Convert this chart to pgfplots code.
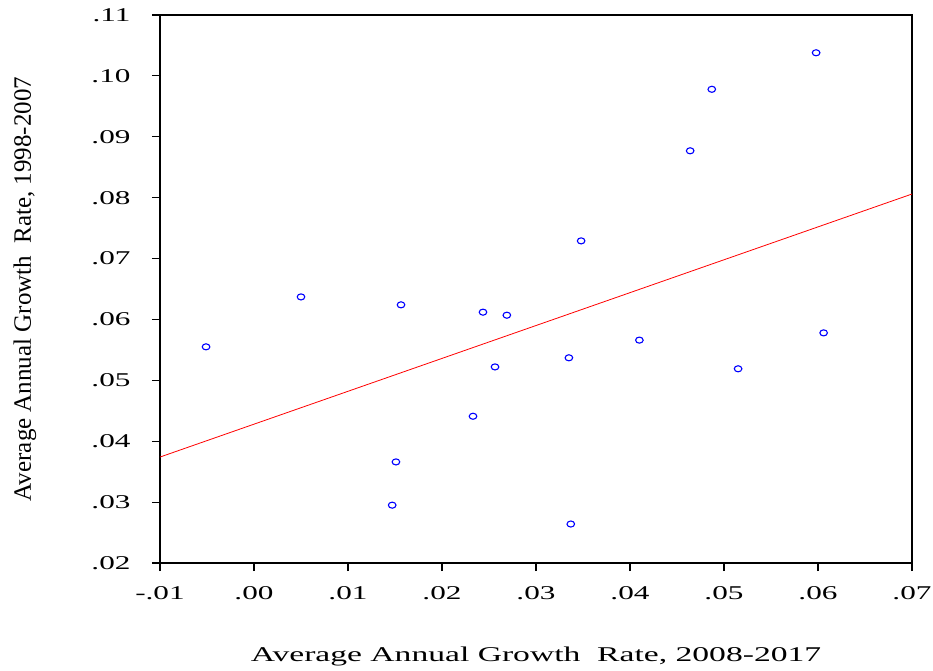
\documentclass[border=0pt]{standalone}
\usepackage{pgfplots}
\pgfplotsset{compat=1.18}
\usepackage{graphicx}
\usepackage{fontspec}
\setmainfont{Liberation Serif}
\newcommand\sx[1]{\scalebox{1.6}[1]{#1}}
\begin{document}
\begin{tikzpicture}
\path[use as bounding box] (-160bp,-108bp) rectangle (773bp,563bp);
\begin{axis}[
  at={(0,0)}, anchor=south west,
  scale only axis, width=752bp, height=548bp,
  xmin=-0.01, xmax=0.07, ymin=0.02, ymax=0.11,
  scaled ticks=false,
  xtick={-0.01,0,0.01,0.02,0.03,0.04,0.05,0.06,0.07},
  xticklabels={\sx{-.01},\sx{.00},\sx{.01},\sx{.02},\sx{.03},\sx{.04},\sx{.05},\sx{.06},\sx{.07}},
  ytick={0.02,0.03,0.04,0.05,0.06,0.07,0.08,0.09,0.10,0.11},
  yticklabels={\sx{.02},\sx{.03},\sx{.04},\sx{.05},\sx{.06},\sx{.07},\sx{.08},\sx{.09},\sx{.10},\sx{.11}},
  tick align=outside, xtick pos=bottom, ytick pos=left,
  major tick length=8bp,
  axis line style={line width=1.3bp},
  every tick/.style={line width=1.1bp, black},
  tick label style={font=\fontsize{19.5bp}{22bp}\selectfont},
  xticklabel style={yshift=-12bp},
  yticklabel style={xshift=-18bp},
  xlabel={\sx{Average Annual Growth\ \ Rate, 2008-2017}},
  ylabel={Average Annual Growth\ \ Rate, 1998-2007},
  xlabel style={font=\fontsize{21bp}{24bp}\selectfont, at={(axis description cs:0.5,-0.1715)}, anchor=center},
  ylabel style={font=\fontsize{25bp}{28bp}\selectfont, at={(axis description cs:-0.1795,0.5)}, anchor=center},
  clip=false,
]
\addplot[red, line width=0.8bp] coordinates {(-0.01,0.0374) (0.07,0.0806)};
\addplot[only marks, blue, mark=o, mark size=3.8bp, mark options={line width=1.1bp, yscale=0.8}] coordinates {
(-0.0051,0.0555)
(0.0050,0.0637)
(0.01564,0.0624)
(0.02436,0.0612)
(0.0269,0.0607)
(0.02564,0.0522)
(0.0233,0.0441)
(0.0151,0.0366)
(0.0147,0.0295)
(0.0337,0.0264)
(0.0335,0.0537)
(0.0348,0.0729)
(0.0410,0.0566)
(0.0464,0.0877)
(0.0487,0.0978)
(0.0515,0.0519)
(0.0598,0.1038)
(0.0606,0.0578)
};
\end{axis}
\end{tikzpicture}
\end{document}
